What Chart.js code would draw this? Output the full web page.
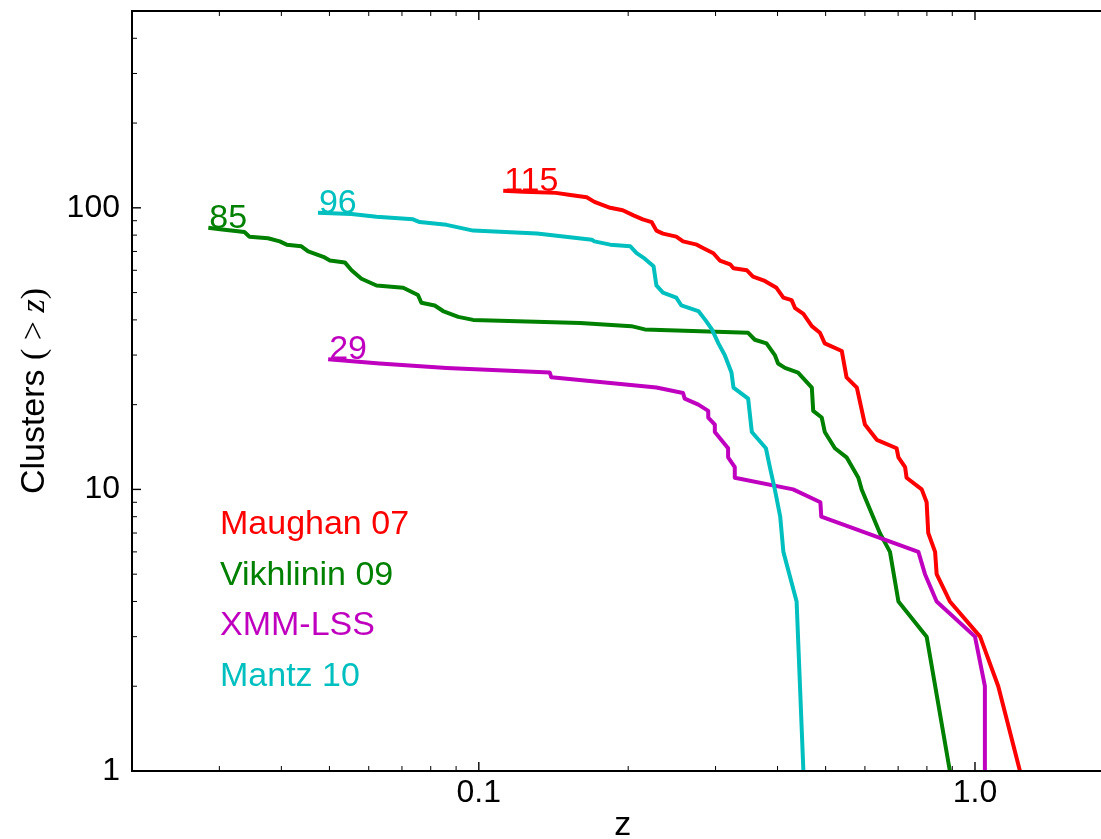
<!DOCTYPE html>
<html>
<head>
<meta charset="utf-8">
<script src="https://cdn.jsdelivr.net/npm/chart.js@4.4.1/dist/chart.umd.min.js"></script>
<style>
  html, body { margin: 0; padding: 0; background: #fff; overflow: hidden; }
</style>
</head>
<body>
<canvas id="myChart" width="1130" height="860"></canvas>
<script>
// cumulative cluster counts N(>z)
const maughanZ = [0.112, 0.123, 0.143, 0.153, 0.165, 0.171, 0.184, 0.195, 0.205, 0.214,
  0.223, 0.228, 0.235, 0.250, 0.258, 0.275, 0.283, 0.297, 0.306, 0.321,
  0.326, 0.347, 0.357, 0.377, 0.398, 0.411, 0.427, 0.434, 0.451, 0.469,
  0.487, 0.498, 0.539, 0.551, 0.578, 0.600, 0.634, 0.695, 0.701, 0.723,
  0.728, 0.781, 0.799, 0.805, 0.831, 0.837, 0.890, 1.024, 1.114, 1.232];
const maughanN = [115, 114, 113, 111, 109, 105, 100, 98, 94, 91,
  89, 83, 81, 79, 76, 74, 72, 69, 65, 63,
  61, 60, 57, 55, 52, 48, 47, 44, 42, 38,
  36, 33, 31, 25, 23, 17, 15, 14, 13, 12,
  11, 10, 9, 7, 6, 5, 4, 3, 2, 1];

const vikhlininZ = [0.0285, 0.0301, 0.0337, 0.0345, 0.0376, 0.0397, 0.0410, 0.0439, 0.0453, 0.0486,
  0.0501, 0.0537, 0.0554, 0.0580, 0.0622, 0.0704, 0.0754, 0.0766, 0.0815, 0.0847,
  0.0909, 0.0974, 0.160, 0.203, 0.216, 0.349, 0.360, 0.380, 0.395, 0.401,
  0.414, 0.440, 0.469, 0.472, 0.491, 0.498, 0.522, 0.551, 0.582, 0.591,
  0.643, 0.674, 0.701, 0.799, 0.890];
const vikhlininN = [85, 84, 82, 79, 78, 76, 74, 73, 70, 67,
  65, 64, 60, 56, 53, 52, 49, 46, 45, 43,
  41, 40, 39, 38, 37, 36, 34, 33, 30, 28,
  27, 26, 23, 19, 18, 16, 14, 13, 11, 10,
  7, 6, 4, 3, 1];

const xmmZ = [0.0497, 0.0631, 0.0861, 0.139, 0.140, 0.228, 0.258, 0.260, 0.277, 0.290,
  0.290, 0.299, 0.299, 0.318, 0.318, 0.328, 0.328, 0.430, 0.488, 0.490,
  0.769, 0.793, 0.837, 1.000, 1.047, 1.047];
const xmmN = [29, 28, 27, 26, 25, 23, 22, 21, 20, 19,
  18, 17, 16, 14, 13, 12, 11, 10, 9, 8,
  6, 5, 4, 3, 2, 1];

const mantzZ = [0.0474, 0.0554, 0.0622, 0.0737, 0.0760, 0.0861, 0.0974, 0.131, 0.169, 0.171,
  0.184, 0.202, 0.208, 0.216, 0.225, 0.228, 0.235, 0.250, 0.256, 0.277,
  0.286, 0.295, 0.304, 0.313, 0.323, 0.326, 0.349, 0.355, 0.379, 0.386,
  0.395, 0.405, 0.411, 0.437, 0.451];
const mantzN = [96, 95, 93, 91, 89, 87, 83, 81, 77, 76,
  74, 73, 69, 66, 62, 53, 50, 48, 45, 43,
  40, 37, 33, 30, 26, 23, 21, 16, 14, 12,
  10, 8, 6, 4, 1];

const seriesLabels = ["Maughan 07", "Vikhlinin 09", "XMM-LSS", "Mantz 10"];
const seriesColors = ["#ff0000", "#008000", "#bf00bf", "#00bfbf"];
const seriesZ = [maughanZ, vikhlininZ, xmmZ, mantzZ];
const seriesN = [maughanN, vikhlininN, xmmN, mantzN];

const xTickValues = [0.1, 1];
const xTickLabels = ["0.1", "1.0"];
const yTickValues = [1, 10, 100];
const yTickLabels = ["1", "10", "100"];

const W = 1130, H = 860;
const SANS = '"Liberation Sans", Arial, Helvetica, sans-serif';
const SERIF = '"Liberation Serif", "DejaVu Serif", serif';
Chart.defaults.font.family = SANS;

function tickLabel(value, values, labels) {
  const i = values.findIndex((v) => Math.abs(value / v - 1) < 1e-6);
  return i >= 0 ? labels[i] : null;
}

function noPadding(s) {
  s.paddingTop = 0; s.paddingBottom = 0; s.paddingLeft = 0; s.paddingRight = 0;
}

const datasets = seriesLabels.map((label, i) => ({
  label: label,
  data: seriesZ[i].map((z, j) => ({ x: z, y: seriesN[i][j] })),
  borderColor: seriesColors[i],
  borderWidth: 4,
  borderJoinStyle: "round",
  pointRadius: 0,
  tension: 0,
  fill: false,
  order: seriesLabels.length - 1 - i,
}));

// inward ticks, frame, curve counts, coloured legend, axis titles
const decorations = {
  id: "decorations",
  afterDatasetsDraw(chart) {
    const { ctx, chartArea: a, scales } = chart;
    const x = scales.x, y = scales.y;
    ctx.save();
    ctx.strokeStyle = "#000";
    const seg = (x1, y1, x2, y2) => {
      ctx.beginPath(); ctx.moveTo(x1, y1); ctx.lineTo(x2, y2); ctx.stroke();
    };
    const logTicks = (min, max) => {
      const out = [];
      for (let e = Math.floor(Math.log10(min)); e <= Math.floor(Math.log10(max)); e++) {
        for (let m = 1; m <= 9; m++) {
          const v = m * Math.pow(10, e);
          if (v > min * 1.0001 && v < max * 0.9999) out.push({ v: v, major: m === 1 });
        }
      }
      return out;
    };
    logTicks(x.min, x.max).forEach((t) => {
      const px = x.getPixelForValue(t.v);
      const len = t.major ? 9 : 5;
      ctx.lineWidth = t.major ? 1.4 : 1;
      seg(px, a.bottom, px, a.bottom - len);
      seg(px, a.top, px, a.top + len);
    });
    logTicks(y.min, y.max).forEach((t) => {
      const py = y.getPixelForValue(t.v);
      const len = t.major ? 9 : 5;
      ctx.lineWidth = t.major ? 1.4 : 1;
      seg(a.left, py, a.left + len, py);
      seg(a.right, py, a.right - len, py);
    });
    ctx.lineWidth = 2;
    ctx.strokeRect(a.left, a.top, a.right - a.left, a.bottom - a.top);

    // total count written at the start of each curve
    ctx.font = "34px " + SANS;
    ctx.textAlign = "left";
    ctx.textBaseline = "alphabetic";
    seriesLabels.forEach((label, i) => {
      ctx.fillStyle = seriesColors[i];
      ctx.fillText(String(seriesN[i][0]),
        x.getPixelForValue(seriesZ[i][0]) + 1, y.getPixelForValue(seriesN[i][0]));
    });

    // legend as coloured text
    seriesLabels.forEach((label, i) => {
      ctx.fillStyle = seriesColors[i];
      ctx.fillText(label, a.left + 88, a.top + 523 + i * 50.5);
    });

    // x title
    ctx.fillStyle = "#000";
    ctx.textAlign = "center";
    ctx.fillText("z", (a.left + a.right) / 2, 835);

    // y title: Clusters (> z)
    const parts = [
      ["Clusters ", "34px " + SANS],
      ["(", "34px " + SERIF],
      [" > ", "34px " + SERIF],
      ["z", "italic 34px " + SERIF],
      [")", "34px " + SERIF],
    ];
    let total = 0;
    parts.forEach((p) => { ctx.font = p[1]; total += ctx.measureText(p[0]).width; });
    ctx.translate(43.5, (a.top + a.bottom) / 2);
    ctx.rotate(-Math.PI / 2);
    ctx.textAlign = "left";
    let cx = -total / 2;
    parts.forEach((p) => {
      ctx.font = p[1];
      ctx.fillText(p[0], cx, 0);
      cx += ctx.measureText(p[0]).width;
    });
    ctx.restore();
  },
};

const ctx = document.getElementById("myChart").getContext("2d");
const chart = new Chart(ctx, {
  type: "line",
  data: { datasets: datasets },
  options: {
    responsive: false,
    animation: false,
    devicePixelRatio: 1,
    layout: { padding: { top: 11, right: W - 1113.3, bottom: 0, left: 0 } },
    plugins: { legend: { display: false }, tooltip: { enabled: false } },
    scales: {
      x: {
        type: "logarithmic",
        min: 0.02,
        max: 1.9,
        grid: { display: false, drawTicks: false },
        border: { display: false },
        ticks: {
          autoSkip: false, maxRotation: 0, padding: 3, color: "#000",
          font: { size: 32 },
          callback: (v) => tickLabel(v, xTickValues, xTickLabels),
        },
        afterFit: (s) => { s.height = H - 771; noPadding(s); },
      },
      y: {
        type: "logarithmic",
        min: 1,
        max: 500,
        grid: { display: false, drawTicks: false },
        border: { display: false },
        ticks: {
          autoSkip: false, padding: 12, color: "#000",
          font: { size: 32 },
          callback: (v) => tickLabel(v, yTickValues, yTickLabels),
        },
        afterFit: (s) => { s.width = 132; noPadding(s); },
      },
    },
  },
  plugins: [decorations],
});
</script>
</body>
</html>
